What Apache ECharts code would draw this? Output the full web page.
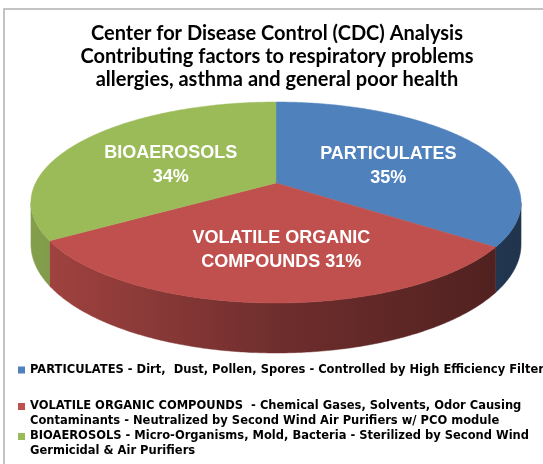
<!DOCTYPE html>
<html><head><meta charset="utf-8">
<script src="https://cdn.jsdelivr.net/npm/echarts@6.0.0/dist/echarts.min.js"></script>
<style>html,body{margin:0;padding:0;background:#fff}#c{width:543px;height:464px}</style>
</head><body><div id="c"></div>
<script>
// ---- data ----
const titleLines = [
  'Center for Disease Control (CDC) Analysis',
  'Contributing factors to respiratory problems',
  'allergies, asthma and general poor health'
];
const categories = ['PARTICULATES', 'VOLATILE ORGANIC COMPOUNDS', 'BIOAEROSOLS'];
const values = [35, 31, 34];
const sliceLabels = ['PARTICULATES\n{v}%', 'VOLATILE ORGANIC\nCOMPOUNDS {v}%', 'BIOAEROSOLS\n{v}%'];
const legendTexts = [
  'PARTICULATES - Dirt,  Dust, Pollen, Spores - Controlled by High Efficiency Filters',
  'VOLATILE ORGANIC COMPOUNDS  - Chemical Gases, Solvents, Odor Causing\nContaminants - Neutralized by Second Wind Air Purifiers w/ PCO module',
  'BIOAEROSOLS - Micro-Organisms, Mold, Bacteria - Sterilized by Second Wind\nGermicidal & Air Purifiers'
];
const colors = ['#4F81BD', '#C0504D', '#9BBB59'];

// ---- 3D pie projection (layout) ----
const CX = 276, CY = 183, A = 240.4, B = 96.7, K = 0.194, H = 40.3;
const labelNudge = [[0, 0], [10, 2], [5, 0]];
function proj(theta, r, h) {
  const s = Math.sin(theta), c = Math.cos(theta);
  const d = 1 + K * r * c;
  return [CX + A * r * s / d, CY + (-B * r * c + H * h) / d];
}
function shade(hex, f) {
  const n = parseInt(hex.slice(1), 16);
  const r = Math.round(((n >> 16) & 255) * f), g = Math.round(((n >> 8) & 255) * f), b = Math.round((n & 255) * f);
  return 'rgb(' + r + ',' + g + ',' + b + ')';
}
const total = values.reduce((a, b) => a + b, 0);

function renderItem(params, api) {
  const i = params.seriesIndex;
  const v = api.value(0);
  let before = 0;
  for (let j = 0; j < i; j++) before += values[j];
  const a0 = before / total * 2 * Math.PI;
  const a1 = (before + v) / total * 2 * Math.PI;
  const children = [];
  const vis0 = Math.acos(-K), vis1 = 2 * Math.PI - vis0;
  const s0 = Math.max(a0, vis0), s1 = Math.min(a1, vis1);
  if (s1 > s0) {
    const pts = [];
    const n = Math.max(2, Math.ceil((s1 - s0) / 0.01));
    for (let t = 0; t <= n; t++) pts.push(proj(s0 + (s1 - s0) * t / n, 1, 0));
    for (let t = n; t >= 0; t--) pts.push(proj(s0 + (s1 - s0) * t / n, 1, 1));
    const grad = new echarts.graphic.LinearGradient(CX - A * 1.02, 0, CX + A * 1.02, 0, [
      { offset: 0, color: shade(colors[i], 0.85) },
      { offset: 0.5, color: shade(colors[i], 0.58) },
      { offset: 1, color: shade(colors[i], 0.4) }
    ], true);
    children.push({ type: 'polygon', shape: { points: pts }, style: { fill: grad, stroke: grad, lineWidth: 0.5 } });
  }
  const top = [proj(0, 0, 0)];
  const n2 = Math.max(2, Math.ceil((a1 - a0) / 0.01));
  for (let t = 0; t <= n2; t++) top.push(proj(a0 + (a1 - a0) * t / n2, 1, 0));
  children.push({ type: 'polygon', shape: { points: top }, style: { fill: colors[i], stroke: colors[i], lineWidth: 0.5 } });
  const mid = (a0 + a1) / 2;
  const lp = proj(mid, 0.55, 0);
  children.push({
    type: 'text', x: lp[0] + labelNudge[i][0], y: lp[1] + 6 + labelNudge[i][1],
    style: {
      text: sliceLabels[i].replace('{v}', v), fill: '#ffffff',
      fontFamily: 'Liberation Sans', fontWeight: 'bold', fontSize: 18, lineHeight: 24,
      align: 'center', verticalAlign: 'middle'
    }
  });
  return { type: 'group', children };
}

const legendBase = {
  orient: 'vertical', left: 18, padding: 0, itemWidth: 7, itemHeight: 7, icon: 'rect',
  selectedMode: false
};
const legendTops = [362.5, 384, 414];
const legends = categories.map((c, i) => Object.assign({}, legendBase, {
  data: [c], top: legendTops[i],
  formatter: function (name) {
    const t = legendTexts[categories.indexOf(name)];
    return t.indexOf('\n') >= 0 ? '\n' + t : t;
  },
  textStyle: { fontFamily: 'DejaVu Sans', fontWeight: 'bold', fontSize: 11.5, color: '#000', lineHeight: 15 }
}));

const option = {
  animation: false,
  color: colors,
  graphic: [{
    type: 'polyline', shape: { points: [[4, 470], [4, 9], [560, 9]] },
    style: { stroke: '#b0b0b0', lineWidth: 1.5, fill: null }, silent: true
  }, {
    type: 'text', x: 277, y: 22,
    style: {
      text: titleLines.join('\n'), align: 'center', verticalAlign: 'top',
      fontFamily: 'Lato', fontWeight: 'bold', fontSize: 20, lineHeight: 23, fill: '#000'
    }
  }],
  legend: legends,
  series: categories.map((c, i) => ({
    type: 'custom', name: c, coordinateSystem: 'none',
    itemStyle: { color: colors[i] },
    renderItem: renderItem,
    data: [[values[i]]]
  }))
};
const chart = echarts.init(document.getElementById('c'));
chart.setOption(option);
</script>
</body></html>
